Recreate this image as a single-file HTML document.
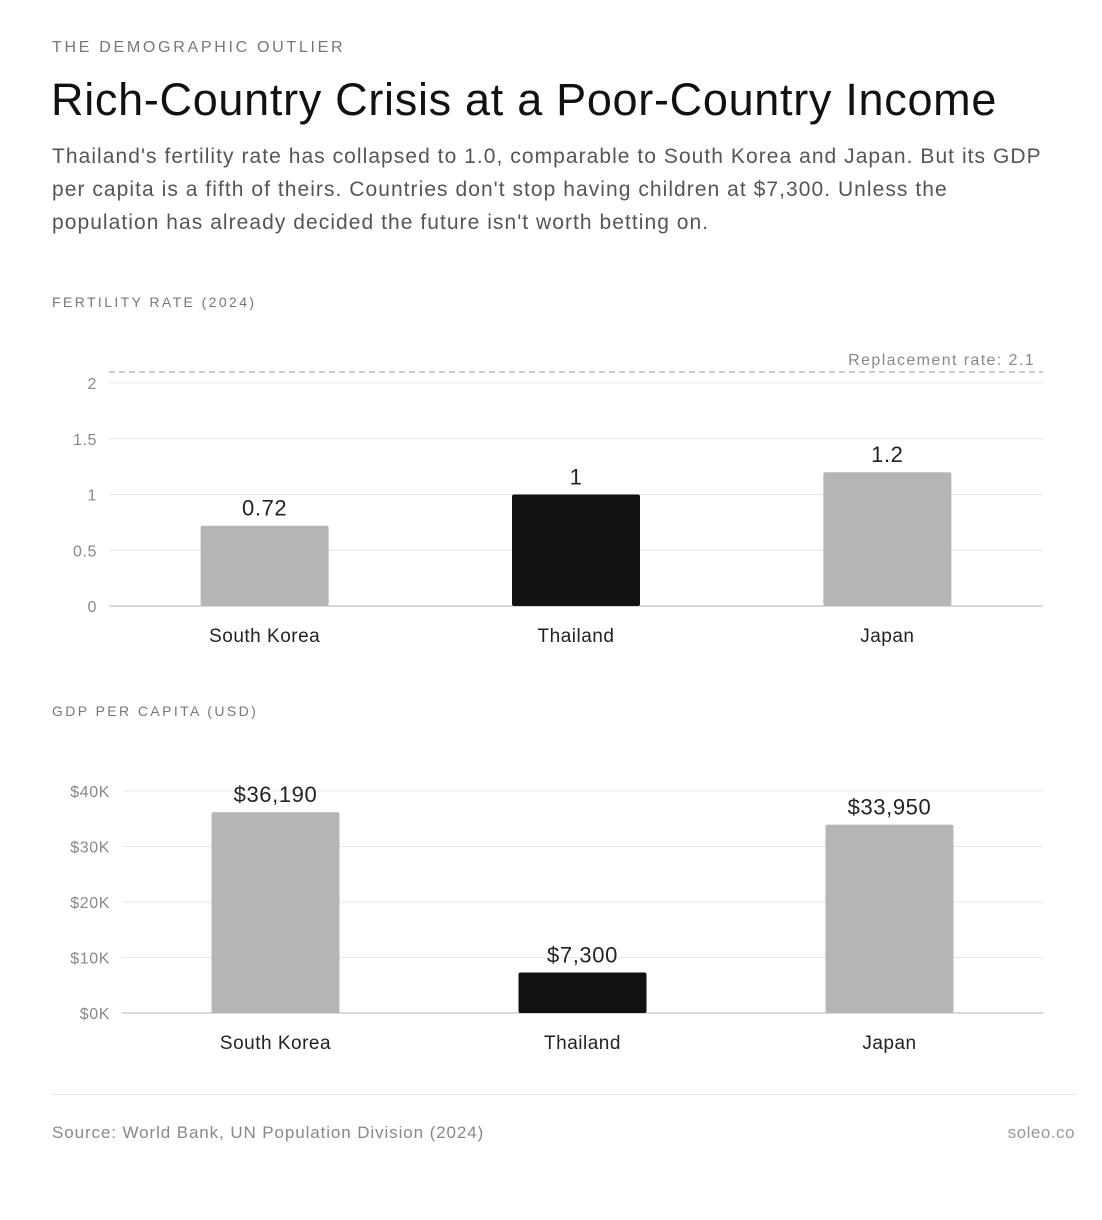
<!DOCTYPE html>
<html><head><meta charset="utf-8">
<style>
body{margin:0;width:1102px;height:1220px;background:#fff;font-family:"Liberation Sans",sans-serif;position:relative;overflow:hidden}
.t{position:absolute;white-space:nowrap}
</style></head><body>
<div class="t" style="left:52px;top:39px;font-size:16px;letter-spacing:2.7px;color:#777">THE DEMOGRAPHIC OUTLIER</div>
<div class="t" style="left:51px;top:74px;font-size:45px;letter-spacing:0.7px;color:#111">Rich-Country Crisis at a Poor-Country Income</div>
<div class="t" style="left:52px;top:140px;font-size:21px;letter-spacing:1.05px;line-height:33px;color:#555">Thailand's fertility rate has collapsed to 1.0, comparable to South Korea and Japan. But its GDP<br>per capita is a fifth of theirs. Countries don't stop having children at $7,300. Unless the<br>population has already decided the future isn't worth betting on.</div>
<div class="t" style="left:52px;top:294px;font-size:14px;letter-spacing:2.4px;color:#777">FERTILITY RATE (2024)</div>
<div class="t" style="left:52px;top:703px;font-size:14px;letter-spacing:2.4px;color:#777">GDP PER CAPITA (USD)</div>
<svg id="c" width="1102" height="1220" style="position:absolute;left:0;top:0"></svg>
<div style="position:absolute;left:52px;top:1094px;width:1024px;height:1px;background:#e6e6e6"></div>
<div class="t" style="left:52px;top:1123px;font-size:17px;letter-spacing:0.9px;color:#888">Source: World Bank, UN Population Division (2024)</div>
<div class="t" style="right:27px;top:1123px;font-size:17px;letter-spacing:0.5px;color:#999">soleo.co</div>
<script>
const categories=["South Korea","Thailand","Japan"];
const fertility=[0.72,1.0,1.2];
const fertilityLabels=["0.72","1","1.2"];
const fertTicks=[0,0.5,1,1.5,2];
const fertTickLabels=["0","0.5","1","1.5","2"];
const replacement=2.1;
const gdp=[36190,7300,33950];
const gdpLabels=["$36,190","$7,300","$33,950"];
const gdpTicks=[0,10000,20000,30000,40000];
const gdpTickLabels=["$0K","$10K","$20K","$30K","$40K"];
const colors=["#b5b5b5","#111111","#b5b5b5"];
const svg=document.getElementById('c');const NS="http://www.w3.org/2000/svg";
function mk(t,a,txt){const e=document.createElementNS(NS,t);for(const k in a)e.setAttribute(k,a[k]);if(txt!=null)e.textContent=txt;svg.appendChild(e);return e;}
function chart(o){
 const y=v=>o.y0-(v/o.max)*(o.y0-o.yTop);
 const band=(o.x1-o.x0)/categories.length;
 const xc=i=>o.x0+band*(i+0.5);
 o.ticks.forEach((t,i)=>{
  const g=mk('line',{x1:o.x0,x2:o.x1,y1:y(t),y2:y(t),stroke:i===0?'#cccccc':'#e8e8e8','stroke-width':i===0?1.5:1});
  
  const l=mk('text',{x:o.x0-12,y:y(t)+6,'text-anchor':'end','font-size':16,'letter-spacing':0.6,fill:'#888','font-family':'Liberation Sans'},o.tickLabels[i]);
  
 });
 if(o.ref!=null){
  const r=mk('line',{x1:o.x0,x2:o.x1,y1:y(o.ref),y2:y(o.ref),stroke:'#bbb','stroke-width':1.5,'stroke-dasharray':'6,4'});
  
  const rl=mk('text',{x:o.x1-8,y:y(o.ref)-7,'text-anchor':'end','font-size':16,'letter-spacing':1.4,fill:'#888','font-family':'Liberation Sans'},'Replacement rate: '+o.ref);
  
 }
 o.vals.forEach((v,i)=>{
  const w=128;
  const b=mk('rect',{x:xc(i)-w/2,y:y(v),width:w,height:o.y0-y(v),rx:2,fill:colors[i]});
  
  const vl=mk('text',{x:xc(i),y:y(v)-10,'text-anchor':'middle','font-size':22,'letter-spacing':0.6,fill:'#222','font-family':'Liberation Sans'},o.labels[i]);
  
  const cl=mk('text',{x:xc(i),y:o.y0+36,'text-anchor':'middle','font-size':19,'letter-spacing':0.5,fill:'#222','font-family':'Liberation Sans'},categories[i]);
  
 });
}
chart({p:'fertility',x0:109,x1:1043,y0:606,yTop:383,max:2,ticks:fertTicks,tickLabels:fertTickLabels,vals:fertility,labels:fertilityLabels,ref:replacement});
chart({p:'gdp',x0:122,x1:1043,y0:1013,yTop:791,max:40000,ticks:gdpTicks,tickLabels:gdpTickLabels,vals:gdp,labels:gdpLabels,ref:null});
</script>
</body></html>
